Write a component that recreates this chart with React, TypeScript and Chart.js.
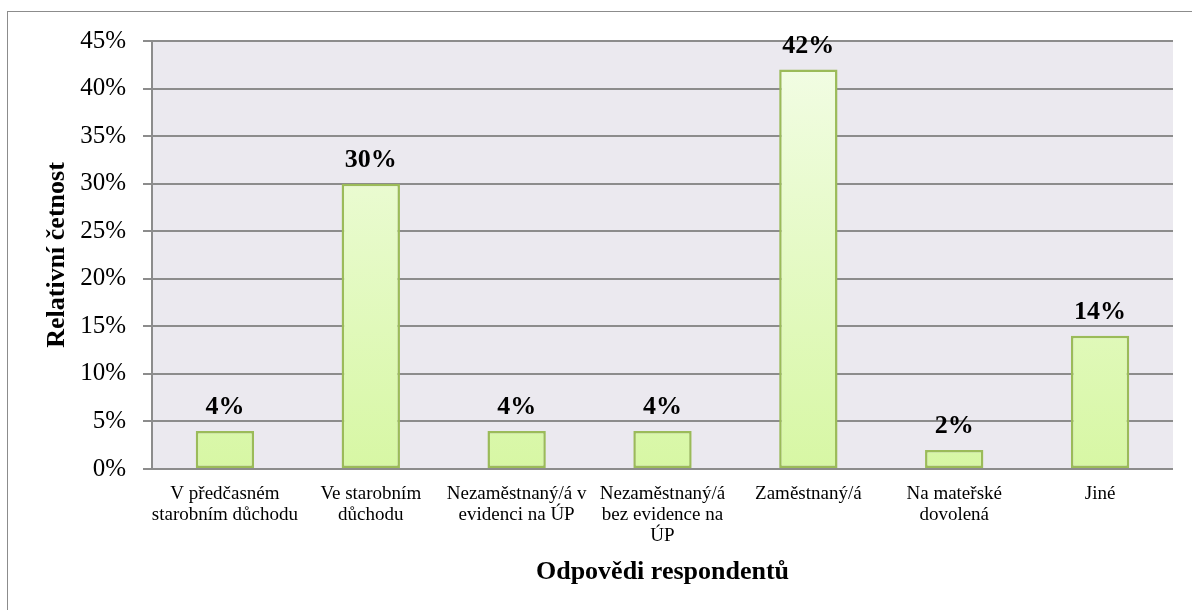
import React, { useEffect, useRef } from "react";
import { Chart, registerables } from "chart.js";

Chart.register(...registerables);

const categories: string[][] = [
  ["V předčasném", "starobním důchodu"],
  ["Ve starobním", "důchodu"],
  ["Nezaměstnaný/á v", "evidenci na ÚP"],
  ["Nezaměstnaný/á", "bez evidence na", "ÚP"],
  ["Zaměstnaný/á"],
  ["Na mateřské", "dovolená"],
  ["Jiné"],
];
const values: number[] = [4, 30, 4, 4, 42, 2, 14];
const yTitle = "Relativní četnost";
const xTitle = "Odpovědi respondentů";

const FONT = "'Liberation Serif', 'Times New Roman', serif";

const framePlugin = {
  id: "framePlugin",
  beforeDraw(chart: any) {
    const { ctx, chartArea } = chart;
    ctx.save();
    ctx.fillStyle = "#ffffff";
    ctx.fillRect(0, 0, chart.width, chart.height);
    ctx.strokeStyle = "#8c8c8c";
    ctx.lineWidth = 1;
    ctx.strokeRect(7.5, 11.5, 1400, 800);
    ctx.fillStyle = "#ebe9ef";
    ctx.fillRect(chartArea.left, chartArea.top, chartArea.right - chartArea.left, chartArea.bottom - chartArea.top);
    ctx.restore();
  },
  afterDatasetsDraw(chart: any) {
    const { ctx } = chart;
    const meta = chart.getDatasetMeta(0);
    ctx.save();
    ctx.font = `bold 26px ${FONT}`;
    ctx.fillStyle = "#000000";
    ctx.textAlign = "center";
    ctx.textBaseline = "alphabetic";
    meta.data.forEach((bar: any, i: number) => {
      ctx.fillText(values[i] + "%", bar.x, bar.y - 17);
    });
    ctx.restore();
  },
};

export default function App() {
  const ref = useRef<HTMLCanvasElement | null>(null);
  useEffect(() => {
    const canvas = ref.current!;
    const ctx = canvas.getContext("2d")!;
    const chart = new Chart(ctx, {
      type: "bar",
      data: {
        labels: categories,
        datasets: [
          {
            data: values,
            backgroundColor: (c: any) => {
              const area = c.chart.chartArea;
              if (!area) return "#def9b5";
              const el = c.element;
              const top = el && el.y != null ? el.y : area.top;
              const bottom = area.bottom;
              const g = c.chart.ctx.createLinearGradient(0, top, 0, bottom);
              g.addColorStop(0, "#f3fde7");
              g.addColorStop(1, "#d7f7a4");
              return g;
            },
            borderColor: "#9bbb59",
            borderWidth: 2.5,
            borderSkipped: false,
            barPercentage: 0.4,
            categoryPercentage: 1,
          },
        ],
      },
      options: {
        responsive: false,
        animation: false,
        devicePixelRatio: 1,
        layout: { padding: { top: 41, right: 19, left: 0, bottom: 0 } },
        plugins: { legend: { display: false }, tooltip: { enabled: false } },
        scales: {
          x: {
            grid: { display: false },
            border: { display: false },
            ticks: {
              color: "#000",
              font: { family: FONT, size: 19, lineHeight: 1.1 },
              padding: 7,
              maxRotation: 0,
              autoSkip: false,
            },
            title: {
              display: true,
              text: xTitle,
              color: "#000",
              font: { family: FONT, size: 26, weight: "bold" },
              padding: { top: 0, bottom: 22 },
            },
            afterFit: (s: any) => {
              s.height = 141;
            },
          },
          y: {
            min: 0,
            max: 45,
            ticks: {
              stepSize: 5,
              color: "#000",
              font: { family: FONT, size: 25 },
              padding: 17,
              callback: (v: any) => v + "%",
            },
            grid: { color: "#8c8c8c", lineWidth: 2, tickLength: 9 },
            border: { display: true, color: "#8c8c8c", width: 2 },
            title: {
              display: true,
              text: yTitle,
              color: "#000",
              font: { family: FONT, size: 26, weight: "bold" },
              padding: { top: 42, bottom: 0 },
            },
            afterFit: (s: any) => {
              s.width = 152;
            },
          },
        },
      },
      plugins: [framePlugin],
    });
    return () => chart.destroy();
  }, []);
  return (
    <div style={{ position: "fixed", left: 0, top: 0, width: 1192, height: 610 }}>
      <canvas ref={ref} width={1192} height={610} style={{ display: "block" }} />
    </div>
  );
}
